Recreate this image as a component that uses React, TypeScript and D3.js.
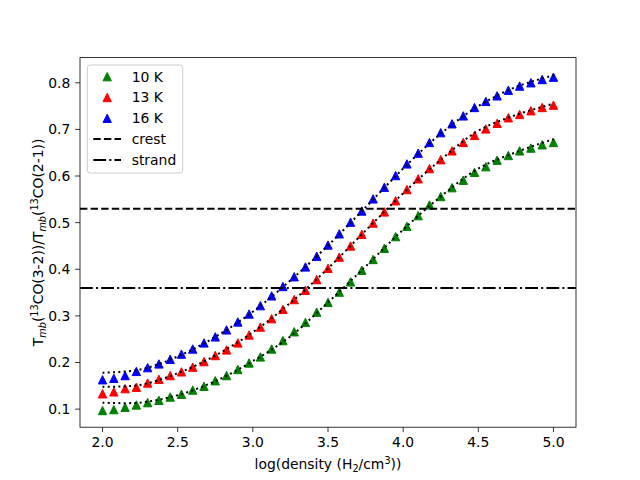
import * as d3 from "d3";

// log10 of H2 density (cm^-3) at the modelled points
const logDensity = [
  2.0, 2.075, 2.15, 2.225, 2.3, 2.375, 2.45, 2.525, 2.6, 2.675, 2.75, 2.825, 2.9, 2.975,
  3.05, 3.125, 3.2, 3.275, 3.35, 3.425, 3.5, 3.575, 3.65, 3.725, 3.8, 3.875, 3.95, 4.025,
  4.1, 4.175, 4.25, 4.325, 4.4, 4.475, 4.55, 4.625, 4.7, 4.775, 4.85, 4.925, 5.0,
];

const ratio10K = [
  0.097, 0.099, 0.104, 0.109, 0.114, 0.119, 0.126, 0.132, 0.141, 0.149, 0.161, 0.172, 0.185, 0.199,
  0.212, 0.229, 0.247, 0.266, 0.286, 0.308, 0.329, 0.351, 0.373, 0.398, 0.421, 0.445, 0.47, 0.492,
  0.515, 0.538, 0.556, 0.575, 0.591, 0.608, 0.62, 0.634, 0.644, 0.654, 0.66, 0.667, 0.672,
];
const ratio13K = [
  0.133, 0.137, 0.144, 0.147, 0.156, 0.164, 0.172, 0.18, 0.19, 0.202, 0.215, 0.227, 0.242, 0.259,
  0.276, 0.294, 0.314, 0.335, 0.355, 0.378, 0.402, 0.426, 0.45, 0.475, 0.499, 0.523, 0.547, 0.571,
  0.594, 0.616, 0.635, 0.654, 0.672, 0.687, 0.701, 0.713, 0.725, 0.732, 0.74, 0.747, 0.752,
];
const ratio16K = [
  0.163, 0.166, 0.172, 0.181, 0.189, 0.197, 0.207, 0.218, 0.229, 0.242, 0.255, 0.27, 0.287, 0.304,
  0.322, 0.343, 0.363, 0.384, 0.405, 0.428, 0.452, 0.476, 0.501, 0.525, 0.551, 0.576, 0.601, 0.626,
  0.649, 0.672, 0.693, 0.712, 0.729, 0.747, 0.76, 0.772, 0.784, 0.793, 0.8, 0.807, 0.812,
];

// dotted fit curves, sampled coarsely
const fitDensity = [2.0, 2.25, 2.5, 2.75, 3.0, 3.25, 3.5, 3.75, 4.0, 4.25, 4.5, 4.75, 5.0];
const fit10K = [0.114, 0.114, 0.13, 0.16, 0.203, 0.256, 0.329, 0.406, 0.485, 0.556, 0.616, 0.651, 0.679];
const fit13K = [0.148, 0.152, 0.177, 0.215, 0.265, 0.328, 0.402, 0.483, 0.563, 0.635, 0.697, 0.731, 0.755];
const fit16K = [0.178, 0.185, 0.213, 0.255, 0.309, 0.376, 0.451, 0.533, 0.616, 0.691, 0.75, 0.791, 0.816];

const crestRatio = 0.53;
const strandRatio = 0.36;

const xTicks = [2.0, 2.5, 3.0, 3.5, 4.0, 4.5, 5.0];
const yTicks = [0.1, 0.2, 0.3, 0.4, 0.5, 0.6, 0.7, 0.8];

const series = [
  { name: "10 K", color: "#008000", values: ratio10K, fit: fit10K },
  { name: "13 K", color: "#ff0000", values: ratio13K, fit: fit13K },
  { name: "16 K", color: "#0000ff", values: ratio16K, fit: fit16K },
];

const W = 640;
const H = 480;
const m = { left: 80, right: 576, top: 57.6, bottom: 427.2 };
const font = "DejaVu Sans, sans-serif";
const fs = 13.9;
const lw = 2;
const dotted = "2,3.3";
const dashed = "7.4,3.2";
const dashDot = "12.8,3.2,2,3.2";

function Triangle({ cx, cy, color }: { cx: number; cy: number; color: string }) {
  const r = 4.17;
  return (
    <path
      d={`M${cx},${cy - r}L${cx - r},${cy + r}L${cx + r},${cy + r}Z`}
      fill={color}
      stroke={color}
      strokeWidth={1}
      strokeLinejoin="miter"
    />
  );
}

export default function App() {
  const x = d3.scaleLinear().domain([1.85, 5.15]).range([m.left, m.right]);
  const y = d3.scaleLinear().domain([0.0613, 0.854]).range([m.bottom, m.top]);

  const fitLine = d3
    .line<number>()
    .x((_, i) => x(fitDensity[i]))
    .y((v) => y(v))
    .curve(d3.curveCatmullRom);

  const legendX = 87.3;
  const legendY = 65;
  const rowH = 20.8;
  const legendRows = [
    ...series.map((s) => ({ name: s.name, color: s.color, dash: null as string | null })),
    { name: "crest", color: "#000", dash: dashed },
    { name: "strand", color: "#000", dash: dashDot },
  ];

  return (
    <svg width={W} height={H} style={{ display: "block", position: "absolute", left: 0, top: 0 }} fontFamily={font}>
      <rect width={W} height={H} fill="#fff" />
      <defs>
        <clipPath id="plot">
          <rect x={m.left} y={m.top} width={m.right - m.left} height={m.bottom - m.top} />
        </clipPath>
      </defs>

      <g clipPath="url(#plot)">
        {series.map((s) =>
          s.values.map((v, i) => <Triangle key={s.name + i} cx={x(logDensity[i])} cy={y(v)} color={s.color} />)
        )}
        {series.map((s) => (
          <path key={"fit" + s.name} d={fitLine(s.fit) ?? ""} fill="none" stroke="#000" strokeWidth={lw} strokeDasharray={dotted} />
        ))}
        <line x1={m.left} x2={m.right} y1={y(crestRatio)} y2={y(crestRatio)} stroke="#000" strokeWidth={lw} strokeDasharray={dashed} />
        <line x1={m.left} x2={m.right} y1={y(strandRatio)} y2={y(strandRatio)} stroke="#000" strokeWidth={lw} strokeDasharray={dashDot} />
      </g>

      <rect x={m.left} y={m.top} width={m.right - m.left} height={m.bottom - m.top} fill="none" stroke="#000" strokeWidth={0.8} />

      {xTicks.map((t) => (
        <g key={"x" + t}>
          <line x1={x(t)} x2={x(t)} y1={m.bottom} y2={m.bottom + 4.86} stroke="#000" strokeWidth={0.8} />
          <text x={x(t)} y={m.bottom + 20} textAnchor="middle" fontSize={fs} fill="#000">
            {t.toFixed(1)}
          </text>
        </g>
      ))}
      {yTicks.map((t) => (
        <g key={"y" + t}>
          <line x1={m.left - 4.86} x2={m.left} y1={y(t)} y2={y(t)} stroke="#000" strokeWidth={0.8} />
          <text x={m.left - 9.7} y={y(t)} dy="0.35em" textAnchor="end" fontSize={fs} fill="#000">
            {t.toFixed(1)}
          </text>
        </g>
      ))}

      <text x={(m.left + m.right) / 2} y={469} textAnchor="middle" fontSize={fs} fill="#000">
        log(density (H
        <tspan fontSize={9.7} dy={3}>2</tspan>
        <tspan dy={-3}>/cm</tspan>
        <tspan fontSize={9.7} dy={-5}>3</tspan>
        <tspan dy={5}>))</tspan>
      </text>

      <text transform={`translate(43, ${(m.top + m.bottom) / 2}) rotate(-90)`} textAnchor="middle" fontSize={fs} fill="#000">
        T<tspan fontSize={9.7} fontStyle="italic" dy={3}>mb</tspan>
        <tspan dy={-3}>(</tspan>
        <tspan fontSize={9.7} dy={-5}>13</tspan>
        <tspan dy={5}>CO(3-2))/T</tspan>
        <tspan fontSize={9.7} fontStyle="italic" dy={3}>mb</tspan>
        <tspan dy={-3}>(</tspan>
        <tspan fontSize={9.7} dy={-5}>13</tspan>
        <tspan dy={5}>CO(2-1))</tspan>
      </text>

      <g>
        <rect x={legendX} y={legendY} width={95.4} height={108} rx={2.8} fill="#fff" fillOpacity={0.8} stroke="#cccccc" strokeWidth={1} />
        {legendRows.map((r, i) => {
          const cy = legendY + 11.7 + i * rowH;
          return (
            <g key={r.name}>
              {r.dash ? (
                <line x1={93.3} x2={121} y1={cy} y2={cy} stroke="#000" strokeWidth={lw} strokeDasharray={r.dash} />
              ) : (
                <Triangle cx={107.2} cy={cy} color={r.color} />
              )}
              <text x={131.7} y={cy} dy="0.35em" fontSize={fs} fill="#000">
                {r.name}
              </text>
            </g>
          );
        })}
      </g>
    </svg>
  );
}
